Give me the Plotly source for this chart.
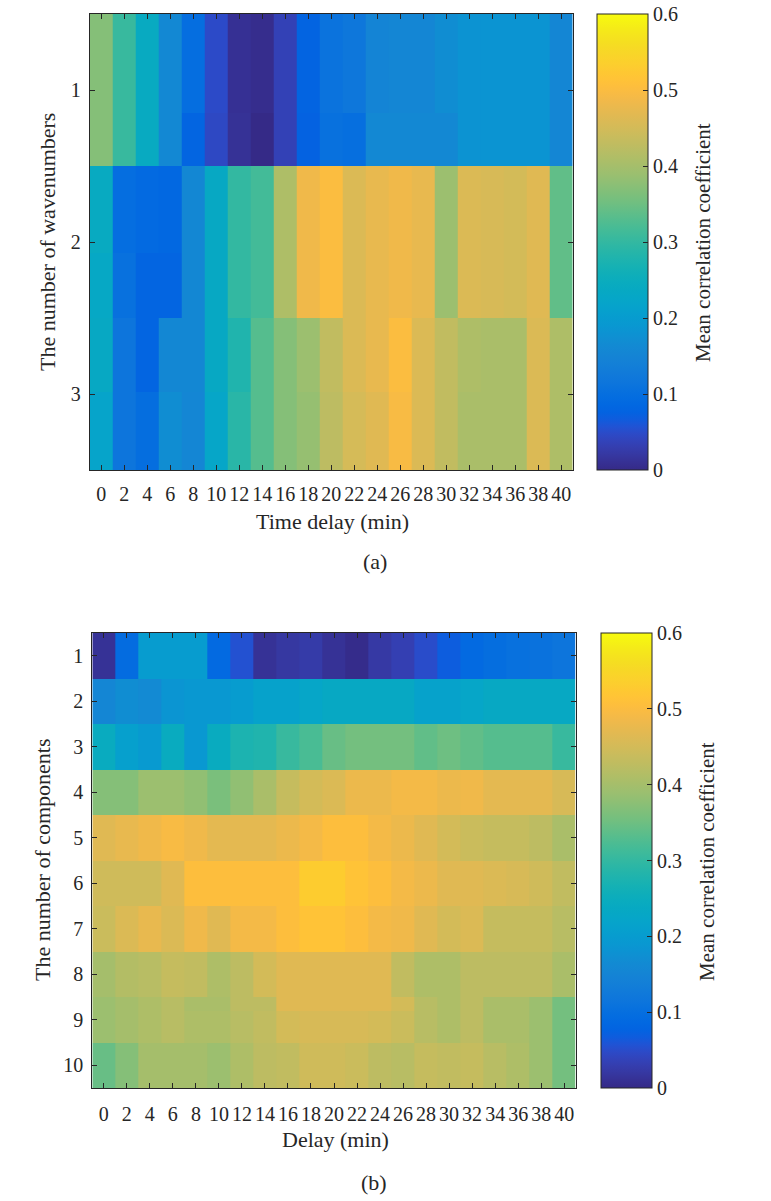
import plotly.graph_objects as go

# the page body's default 8px margin is removed after drawing (see write_html below)
W, H = 771, 1201
FONT = "Liberation Serif"
INK = "#262626"

delays = list(range(0, 41, 2))
delay_labels = [str(d) for d in delays]

# ---- (a) number of wavenumbers: each wavenumber row is stored as an upper and lower band
wn_rows = [1, 2, 3]
wn_band_edges = [0.5, 1.15, 1.5, 2.07, 2.5, 2.99, 3.5]
wn1_upper = [0.37, 0.305, 0.24, 0.16, 0.097, 0.048, 0.01, 0.005, 0.035, 0.078, 0.11,
             0.118, 0.15, 0.155, 0.155, 0.17, 0.18, 0.183, 0.183, 0.183, 0.155]
wn1_lower = [0.37, 0.305, 0.24, 0.16, 0.08, 0.045, 0.012, 0.0, 0.035, 0.075, 0.105,
             0.10, 0.16, 0.16, 0.16, 0.16, 0.18, 0.183, 0.183, 0.183, 0.155]
wn2_upper = [0.24, 0.097, 0.09, 0.085, 0.158, 0.235, 0.30, 0.315, 0.41, 0.485, 0.50,
             0.46, 0.475, 0.485, 0.475, 0.39, 0.46, 0.455, 0.45, 0.465, 0.34]
wn2_lower = [0.232, 0.105, 0.08, 0.08, 0.158, 0.235, 0.30, 0.315, 0.41, 0.485, 0.50,
             0.46, 0.475, 0.485, 0.475, 0.39, 0.46, 0.455, 0.45, 0.465, 0.34]
wn3_upper = [0.235, 0.115, 0.08, 0.158, 0.158, 0.235, 0.28, 0.33, 0.37, 0.39, 0.43,
             0.46, 0.475, 0.50, 0.46, 0.43, 0.41, 0.405, 0.405, 0.46, 0.41]
wn3_lower = [0.22, 0.115, 0.098, 0.17, 0.155, 0.225, 0.29, 0.33, 0.37, 0.385, 0.425,
             0.452, 0.465, 0.495, 0.46, 0.43, 0.405, 0.405, 0.405, 0.46, 0.41]

# ---- (b) number of components (component 9 has an upper and lower band)
comp_rows = list(range(1, 11))
comp_band_edges = [0.5, 1.5, 2.5, 3.5, 4.5, 5.5, 6.5, 7.5, 8.5, 8.8, 9.5, 10.5]
comp1 = [0.012, 0.093, 0.20, 0.20, 0.20, 0.09, 0.055, 0.012, 0.02, 0.025, 0.012,
         0.003, 0.022, 0.032, 0.05, 0.068, 0.09, 0.098, 0.105, 0.108, 0.115]
comp2 = [0.155, 0.17, 0.163, 0.185, 0.19, 0.19, 0.20, 0.215, 0.215, 0.225, 0.235,
         0.235, 0.235, 0.235, 0.215, 0.215, 0.225, 0.235, 0.235, 0.235, 0.235]
comp3 = [0.245, 0.21, 0.195, 0.245, 0.19, 0.245, 0.275, 0.28, 0.305, 0.32, 0.345,
         0.355, 0.355, 0.355, 0.34, 0.35, 0.34, 0.33, 0.33, 0.33, 0.305]
comp4 = [0.37, 0.37, 0.39, 0.39, 0.38, 0.36, 0.38, 0.405, 0.435, 0.45, 0.46,
         0.48, 0.48, 0.49, 0.49, 0.48, 0.485, 0.47, 0.47, 0.47, 0.455]
comp5 = [0.465, 0.475, 0.485, 0.495, 0.485, 0.47, 0.47, 0.47, 0.48, 0.49, 0.505,
         0.505, 0.49, 0.48, 0.465, 0.45, 0.44, 0.435, 0.435, 0.425, 0.405]
comp6 = [0.445, 0.445, 0.445, 0.465, 0.505, 0.505, 0.505, 0.505, 0.505, 0.53, 0.53,
         0.515, 0.505, 0.49, 0.48, 0.465, 0.465, 0.46, 0.455, 0.445, 0.43]
comp7 = [0.44, 0.46, 0.475, 0.46, 0.485, 0.465, 0.49, 0.49, 0.505, 0.515, 0.515,
         0.505, 0.49, 0.485, 0.465, 0.45, 0.46, 0.435, 0.435, 0.435, 0.42]
comp8 = [0.40, 0.415, 0.42, 0.435, 0.43, 0.41, 0.425, 0.45, 0.465, 0.465, 0.465,
         0.465, 0.465, 0.43, 0.41, 0.41, 0.425, 0.425, 0.425, 0.425, 0.405]
comp9_upper = [0.39, 0.40, 0.41, 0.42, 0.405, 0.405, 0.425, 0.425, 0.465, 0.465, 0.465,
               0.465, 0.465, 0.45, 0.42, 0.41, 0.425, 0.405, 0.405, 0.39, 0.355]
comp9_lower = [0.39, 0.40, 0.41, 0.42, 0.41, 0.41, 0.42, 0.43, 0.45, 0.455, 0.455,
               0.455, 0.45, 0.44, 0.42, 0.41, 0.425, 0.405, 0.405, 0.39, 0.355]
comp10 = [0.345, 0.37, 0.40, 0.40, 0.40, 0.39, 0.41, 0.425, 0.43, 0.445, 0.445,
          0.44, 0.425, 0.42, 0.435, 0.43, 0.435, 0.42, 0.41, 0.39, 0.355]

cbar_ticks = [0, 0.1, 0.2, 0.3, 0.4, 0.5, 0.6]
cbar_labels = ["0", "0.1", "0.2", "0.3", "0.4", "0.5", "0.6"]
cbar_title = "Mean correlation coefficient"

# MATLAB parula colormap (64 entries)
parula = [
    [0.2081, 0.1663, 0.5292], [0.2116, 0.1898, 0.5777], [0.2123, 0.2138, 0.6270], [0.2081, 0.2386, 0.6771],
    [0.1959, 0.2645, 0.7279], [0.1707, 0.2919, 0.7792], [0.1253, 0.3242, 0.8303], [0.0591, 0.3598, 0.8683],
    [0.0117, 0.3875, 0.8820], [0.0060, 0.4086, 0.8828], [0.0165, 0.4266, 0.8786], [0.0329, 0.4430, 0.8720],
    [0.0498, 0.4586, 0.8641], [0.0629, 0.4737, 0.8554], [0.0723, 0.4887, 0.8467], [0.0779, 0.5040, 0.8384],
    [0.0793, 0.5200, 0.8312], [0.0749, 0.5375, 0.8263], [0.0641, 0.5570, 0.8240], [0.0488, 0.5772, 0.8228],
    [0.0343, 0.5966, 0.8199], [0.0265, 0.6137, 0.8135], [0.0239, 0.6287, 0.8038], [0.0231, 0.6418, 0.7913],
    [0.0228, 0.6535, 0.7768], [0.0267, 0.6642, 0.7607], [0.0384, 0.6743, 0.7436], [0.0590, 0.6838, 0.7254],
    [0.0843, 0.6928, 0.7062], [0.1133, 0.7015, 0.6859], [0.1453, 0.7098, 0.6646], [0.1801, 0.7177, 0.6424],
    [0.2178, 0.7250, 0.6193], [0.2586, 0.7317, 0.5954], [0.3022, 0.7376, 0.5712], [0.3482, 0.7424, 0.5473],
    [0.3953, 0.7459, 0.5244], [0.4420, 0.7481, 0.5033], [0.4871, 0.7491, 0.4840], [0.5300, 0.7491, 0.4661],
    [0.5709, 0.7485, 0.4494], [0.6099, 0.7473, 0.4337], [0.6473, 0.7456, 0.4188], [0.6834, 0.7435, 0.4044],
    [0.7184, 0.7411, 0.3905], [0.7525, 0.7384, 0.3768], [0.7858, 0.7356, 0.3633], [0.8185, 0.7327, 0.3498],
    [0.8507, 0.7299, 0.3360], [0.8824, 0.7274, 0.3217], [0.9139, 0.7258, 0.3063], [0.9450, 0.7261, 0.2886],
    [0.9739, 0.7314, 0.2666], [0.9938, 0.7455, 0.2403], [0.9990, 0.7653, 0.2164], [0.9955, 0.7861, 0.1967],
    [0.9880, 0.8066, 0.1794], [0.9789, 0.8271, 0.1633], [0.9697, 0.8481, 0.1475], [0.9626, 0.8705, 0.1309],
    [0.9589, 0.8949, 0.1132], [0.9598, 0.9218, 0.0948], [0.9661, 0.9514, 0.0755], [0.9763, 0.9831, 0.0538],
]
colorscale = [[i / (len(parula) - 1), "rgb(%d,%d,%d)" % tuple(round(c * 255) for c in rgb)]
              for i, rgb in enumerate(parula)]


def px_x(p):
    return p / W


def px_y(p):
    return 1 - p / H


def cbar(top, bottom, left):
    return dict(
        x=px_x(left), xanchor="left", xpad=0,
        y=px_y((top + bottom) / 2), yanchor="middle", ypad=0,
        len=(bottom - top) / H, lenmode="fraction",
        thickness=51, thicknessmode="pixels",
        outlinewidth=1, outlinecolor=INK,
        tickvals=cbar_ticks, ticktext=cbar_labels,
        ticks="inside", ticklen=5, tickcolor=INK, tickwidth=1,
        ticklabeloverflow="allow",
        tickfont=dict(family=FONT, size=20, color=INK),
    )


fig = go.Figure()

# panel (a)
A_TOP, A_BOT, A_L, A_R = 14, 470, 89.7, 572.7
fig.add_trace(go.Heatmap(
    x=delays, y=wn_band_edges,
    z=[wn1_upper, wn1_lower, wn2_upper, wn2_lower, wn3_upper, wn3_lower],
    colorscale=colorscale, zmin=0, zmax=0.6,
    colorbar=cbar(A_TOP, A_BOT, 597),
    xaxis="x", yaxis="y", hoverongaps=False,
))

# panel (b)
B_TOP, B_BOT, B_L, B_R = 633, 1088, 92.3, 575.7
fig.add_trace(go.Heatmap(
    x=delays, y=comp_band_edges,
    z=[comp1, comp2, comp3, comp4, comp5, comp6, comp7, comp8,
       comp9_upper, comp9_lower, comp10],
    colorscale=colorscale, zmin=0, zmax=0.6,
    colorbar=cbar(B_TOP, B_BOT, 601),
    xaxis="x2", yaxis="y2", hoverongaps=False,
))

axis_common = dict(
    showline=True, linecolor=INK, linewidth=1, mirror="ticks",
    ticks="inside", ticklen=5, tickcolor=INK, tickwidth=1,
    showgrid=False, zeroline=False, tickangle=0,
    tickfont=dict(family=FONT, size=20, color=INK),
)

fig.update_layout(
    width=W, height=H,
    margin=dict(l=0, r=0, t=0, b=0),
    paper_bgcolor="white", plot_bgcolor="white",
    showlegend=False,
    xaxis=dict(domain=[px_x(A_L), px_x(A_R)], range=[-1, 41], anchor="y",
               tickvals=delays, ticktext=delay_labels, ticklabelstandoff=6, **axis_common),
    yaxis=dict(domain=[px_y(A_BOT), px_y(A_TOP)], range=[3.5, 0.5], anchor="x",
               tickvals=wn_rows, ticktext=[str(r) for r in wn_rows], ticklabelstandoff=4,
               **axis_common),
    xaxis2=dict(domain=[px_x(B_L), px_x(B_R)], range=[-1, 41], anchor="y2",
                tickvals=delays, ticktext=delay_labels, ticklabelstandoff=8, **axis_common),
    yaxis2=dict(domain=[px_y(B_BOT), px_y(B_TOP)], range=[10.5, 0.5], anchor="x2",
                tickvals=comp_rows, ticktext=[str(r) for r in comp_rows], ticklabelstandoff=4,
                **axis_common),
)

notes = [
    ("Time delay (min)", 332, 521, 0, 22),
    ("(a)", 375, 561, 0, 22),
    ("The number of wavenumbers", 48, 242, -90, 22),
    (cbar_title, 703, 243, -90, 21),
    ("Delay (min)", 335, 1139, 0, 22),
    ("(b)", 374, 1182, 0, 22),
    ("The number of components", 42, 860, -90, 22),
    (cbar_title, 707, 862, -90, 21),
]
for txt, x, y, ang, size in notes:
    fig.add_annotation(text=txt, x=px_x(x), y=px_y(y), xref="paper", yref="paper",
                       showarrow=False, textangle=ang,
                       font=dict(family=FONT, size=size, color=INK),
                       xanchor="center", yanchor="middle")

fig.write_html("out.html", config={"displayModeBar": False},
               post_script="document.body.style.margin = '0';")
